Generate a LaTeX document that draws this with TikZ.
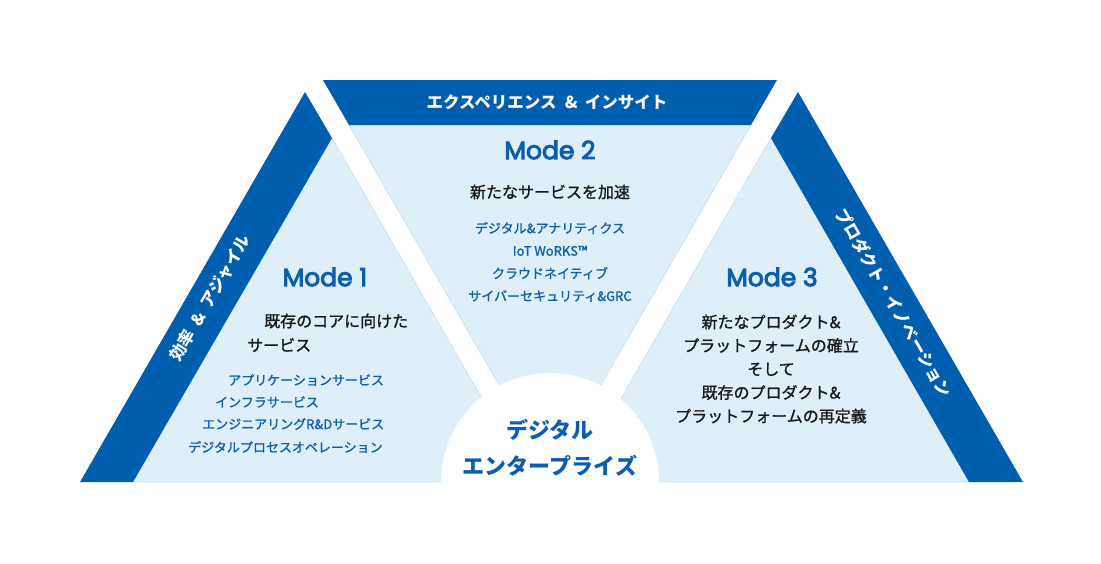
\documentclass[tikz,border=0pt]{standalone}
\usepackage{fontspec}
\setmainfont{Noto Sans CJK JP}
\newfontfamily\modef{Poppins}[FakeBold=4]
\newfontfamily\jpmed{Noto Sans CJK JP}[FakeBold=1.2]
\definecolor{bandblue}{HTML}{005EAF}
\definecolor{lightfill}{HTML}{DFEFFA}
\definecolor{lightedge}{HTML}{C3DCF0}
\definecolor{textblue}{HTML}{0D5FAE}
\definecolor{textblack}{HTML}{1A1A1A}
\newcommand{\amp}{\hspace{0.5em}\&\hspace{0.45em}}
\begin{document}
\begin{tikzpicture}[x=1pt,y=-1pt,
  band/.style={fill=bandblue},
  region/.style={fill=lightfill, draw=lightedge, line width=0.6pt},
  bandtext/.style={text=white, font=\bfseries\fontsize{16.5}{19}\selectfont, inner sep=0},
  modetitle/.style={text=textblue, font=\modef\fontsize{25}{30}\selectfont, inner sep=0},
  lead/.style={text=textblack, font=\jpmed\fontsize{16}{23.5}\selectfont, inner sep=0, align=center},
  item/.style={text=textblue, font=\jpmed\fontsize{13}{22.6}\selectfont, inner sep=0, align=center},
  hub/.style={text=textblue, font=\bfseries\fontsize{22}{36}\selectfont, inner sep=0, align=center}]
\useasboundingbox (0,0) rectangle (1101,563);
\fill[white] (0,0) rectangle (1101,563);

% left triangle
\path[region] (133,482) -- (332,138) -- (530,482) -- cycle;
\path[band] (80,482) -- (305,92) -- (332,138) -- (133,482) -- cycle;
% middle triangle
\path[region] (349,125) -- (751,125) -- (550,473) -- cycle;
\path[band] (323,80) -- (777,80) -- (751,125) -- (349,125) -- cycle;
% right triangle
\path[region] (969,482) -- (771,138) -- (573,482) -- cycle;
\path[band] (1023,482) -- (798,92) -- (771,138) -- (969,482) -- cycle;
% hub
\fill[white] (550,482) circle (109pt);

% band labels
\node[bandtext] (b2) at (547,102) {エクスペリエンス\amp インサイト};
\node[bandtext, rotate=60] (b1) at (210,298) {効率\amp アジャイル};
\node[bandtext, rotate=-60] (b3) at (894,303) {プロダクト・イノベーション};

% Mode 1
\node[modetitle] (m1) at (325,277) {Mode 1};
\node[lead, anchor=west] (m1a) at (264,321) {既存のコアに向けた};
\node[lead, anchor=west] (m1b) at (247,345) {サービス};
\node[item, anchor=west] (m1c) at (228,380) {アプリケーションサービス};
\node[item, anchor=west] (m1d) at (215,402) {インフラサービス};
\node[item, anchor=west] (m1e) at (202,424) {エンジニアリングR\&Dサービス};
\node[item, anchor=west] (m1f) at (188,447) {デジタルプロセスオペレーション};

% Mode 2
\node[modetitle] (m2) at (550,150) {Mode 2};
\node[lead] (m2a) at (550,192) {新たなサービスを加速};
\node[item] (m2b) at (550,262) {デジタル\&アナリティクス\\IoT WoRKS™\\クラウドネイティブ\\サイバーセキュリティ\&GRC};

% Mode 3
\node[modetitle] (m3) at (772,277) {Mode 3};
\node[lead] (m3a) at (771,369) {新たなプロダクト\&\\プラットフォームの確立\\そして\\既存のプロダクト\&\\プラットフォームの再定義};

% hub
\node[hub] (hub) at (550,448) {デジタル\\エンタープライズ};
\end{tikzpicture}
\end{document}
